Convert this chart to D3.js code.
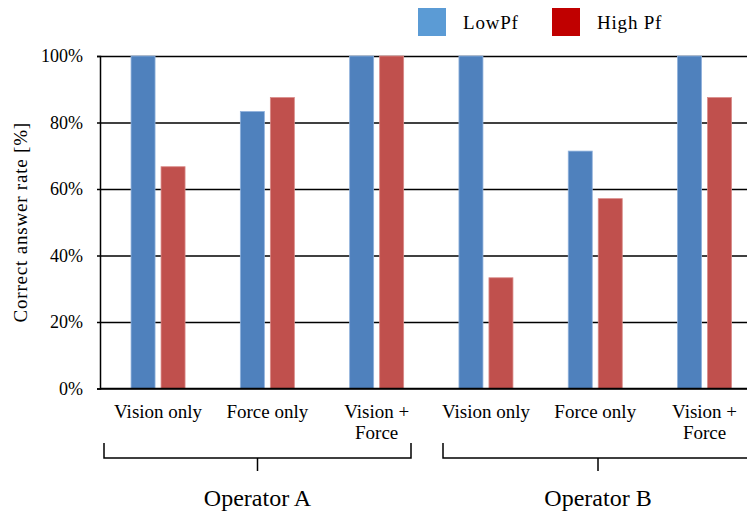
<!DOCTYPE html>
<html>
<head>
<meta charset="utf-8">
<script src="https://cdn.jsdelivr.net/npm/d3@7"></script>
<style>
  body { margin: 0; background: #fff; }
</style>
</head>
<body>
<svg id="chart"></svg>
<script>
const conditions = ['Vision only', 'Force only', 'Vision +\nForce'];
const operators = ['Operator A', 'Operator B'];
const seriesNames = ['LowPf', 'High Pf'];
const lowPf = [100, 83.3, 100, 100, 71.4, 100];
const highPf = [66.7, 87.5, 100, 33.3, 57.1, 87.5];
const yTicks = [0, 20, 40, 60, 80, 100];

const width = 747, height = 513;
const plot = { left: 100, top: 56, bottom: 388.5, right: 747 };
const FONT = "'Liberation Serif', 'Times New Roman', Times, 'DejaVu Serif', serif";

const svg = d3.select('#chart').attr('width', width).attr('height', height)
  .style('font-family', FONT);

const groups = operators.flatMap((op, i) => conditions.map((c, j) => ({ id: i * 3 + j, op, cond: c })));
const data = groups.map((g, k) => ({ ...g, values: [lowPf[k], highPf[k]] }));

const x = d3.scaleBand()
  .domain(groups.map(d => d.id))
  .range([103.4, 759.2]);

const inner = d3.scaleBand()
  .domain(seriesNames)
  .range([0, 54])
  .paddingInner(0.2);

const y = d3.scaleLinear().domain([0, 100]).range([plot.bottom, plot.top]);

const fills = { 'LowPf': '#4F81BD', 'High Pf': '#C0504D' };
const edges = { 'LowPf': '#8FB1DC', 'High Pf': '#D98A88' };

// gridlines + y axis
svg.append('g')
  .attr('transform', `translate(${plot.left},0)`)
  .call(d3.axisLeft(y).tickValues(yTicks).tickFormat(d => d + '%').tickSize(3).tickPadding(14))
  .attr('font-family', FONT)
  .call(g => g.select('.domain').attr('stroke', '#000').attr('stroke-width', 1.5))
  .call(g => g.selectAll('.tick line').attr('stroke-width', 1.5))
  .call(g => g.selectAll('.tick').append('line')
    .attr('x1', 0).attr('x2', plot.right - plot.left)
    .attr('stroke', '#000').attr('stroke-width', 1.5))
  .call(g => g.selectAll('.tick text').attr('font-size', 18).attr('fill', '#000'));

// bars
const grp = svg.append('g').selectAll('g')
  .data(data)
  .join('g')
  .attr('transform', d => `translate(${x(d.id) + x.bandwidth() / 2 - 27},0)`);

grp.selectAll('rect')
  .data(d => seriesNames.map((s, i) => ({ s, v: d.values[i] })))
  .join('rect')
  .attr('x', d => inner(d.s))
  .attr('width', inner.bandwidth())
  .attr('y', d => y(d.v))
  .attr('height', d => y(0) - y(d.v))
  .attr('fill', d => fills[d.s])
  .attr('stroke', d => edges[d.s])
  .attr('stroke-width', 0.8);

// redraw bottom axis line above bars
svg.append('line')
  .attr('x1', plot.left).attr('x2', plot.right)
  .attr('y1', y(0)).attr('y2', y(0))
  .attr('stroke', '#000').attr('stroke-width', 1.5);

// category labels
const labels = svg.append('g').selectAll('text')
  .data(groups)
  .join('text')
  .attr('text-anchor', 'middle')
  .attr('font-size', 19)
  .attr('transform', d => `translate(${x(d.id) + x.bandwidth() / 2},418)`);
labels.selectAll('tspan')
  .data(d => d.cond.split('\n'))
  .join('tspan')
  .attr('x', 0)
  .attr('dy', (d, i) => i === 0 ? 0 : 21)
  .text(d => d);

// operator brackets
const brackets = [
  { op: operators[0], x0: 104, x1: 411 },
  { op: operators[1], x0: 443, x1: 753 }
];
const br = svg.append('g').selectAll('g').data(brackets).join('g');
br.append('path')
  .attr('d', d => `M${d.x0},443V458H${d.x1}V443M${(d.x0 + d.x1) / 2},458V471`)
  .attr('fill', 'none').attr('stroke', '#000').attr('stroke-width', 1.5);
br.append('text')
  .attr('x', d => (d.x0 + d.x1) / 2)
  .attr('y', 506)
  .attr('text-anchor', 'middle')
  .attr('font-size', 24)
  .text(d => d.op);

// y title
svg.append('text')
  .attr('transform', `translate(27,${(plot.top + plot.bottom) / 2}) rotate(-90)`)
  .attr('text-anchor', 'middle')
  .attr('font-size', 19)
  .attr('letter-spacing', 0.8)
  .text('Correct answer rate [%]');

// legend
const legendColors = { 'LowPf': '#5B9BD5', 'High Pf': '#C00000' };
const legend = svg.append('g').selectAll('g')
  .data(seriesNames)
  .join('g')
  .attr('transform', (d, i) => `translate(${418 + i * 134},8)`);
legend.append('rect')
  .attr('width', 28).attr('height', 28)
  .attr('fill', d => legendColors[d]);
legend.append('text')
  .attr('x', 45).attr('y', 21)
  .attr('font-size', 19)
  .attr('letter-spacing', 0.8)
  .text(d => d);
</script>
</body>
</html>
